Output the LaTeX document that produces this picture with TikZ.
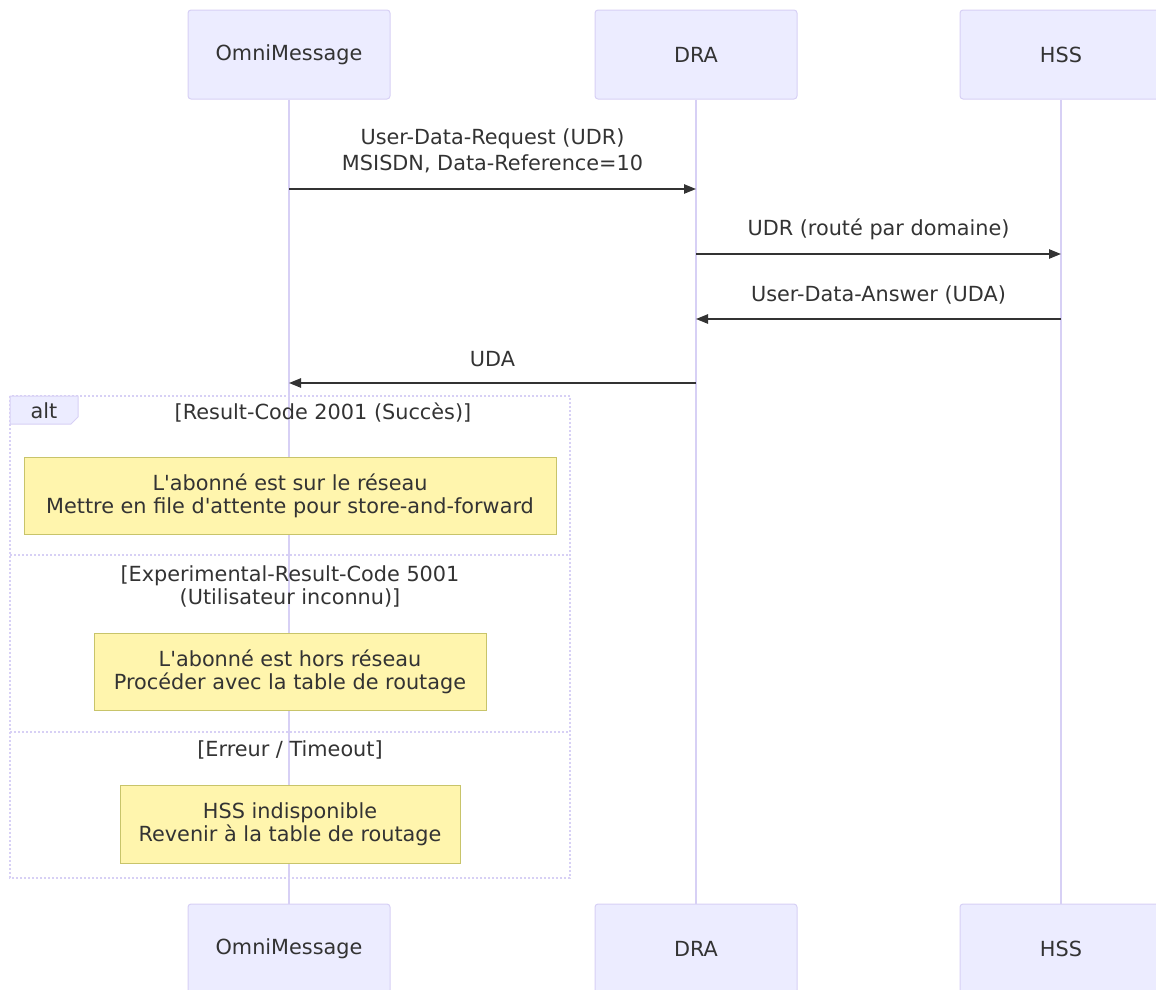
\documentclass[tikz,border=0pt]{standalone}
\usepackage{fontspec}
\newfontfamily\dejavu{DejaVu Sans}
\usetikzlibrary{positioning, arrows.meta}

\definecolor{actorfill}{HTML}{ECECFF}
\definecolor{actorline}{HTML}{D7D0F5}
\definecolor{notefill}{HTML}{FFF5AD}
\definecolor{noteline}{HTML}{C8C46A}
\definecolor{ink}{HTML}{333333}

\begin{document}
\begin{tikzpicture}[x=0.75pt, y=-0.75pt,
  font=\dejavu\fontsize{15.6}{17.25}\selectfont, text=ink,
  actor/.style={draw=actorline, fill=actorfill, rounded corners=2.25pt, minimum width=151.5pt, minimum height=66.75pt, line width=0.75pt},
  life/.style={draw=actorline, line width=1.1pt},
  msg/.style={draw=ink, line width=1.1pt, -{Triangle[length=9pt, width=7pt]}},
  note/.style={draw=noteline, fill=notefill, line width=0.75pt, align=center, inner sep=0pt, minimum height=58pt},
  frame/.style={draw=actorline, line width=1.1pt, dash pattern=on 1.5pt off 1.5pt}]
\useasboundingbox (0,0) rectangle (1156,989);

\node[actor](O0) at (289,54.5) {OmniMessage};
\node[actor](D0) at (696,54.5) {DRA};
\node[actor](H0) at (1061,54.5) {HSS};
\node[actor](O1) at (289,948.5) {OmniMessage};
\node[actor](D1) at (696,948.5) {DRA};
\node[actor](H1) at (1061,948.5) {HSS};

\path[life](O0)--(O1);
\path[life](D0)--(D1);
\path[life](H0)--(H1);

% messages
\node[align=center, font=\dejavu\fontsize{15.6}{19.5}\selectfont](m1) at (492.5,151) {User-Data-Request (UDR)\\MSISDN, Data-Reference=10};
\draw[msg](O0 |- 0,189)--(D0 |- 0,189);
\node(m2) at (878.5,229) {UDR (routé par domaine)};
\draw[msg](D0 |- 0,254)--(H0 |- 0,254);
\node(m3) at (878.5,295) {User-Data-Answer (UDA)};
\draw[msg](H0 |- 0,319)--(D0 |- 0,319);
\node(m4) at (492.5,359) {UDA};
\draw[msg](D0 |- 0,383)--(O0 |- 0,383);

% alt frame
\draw[frame](10,396) rectangle (570,878);
\draw[frame](10,555)--(570,555);
\draw[frame](10,732)--(570,732);
\filldraw[draw=actorline, fill=actorfill, line width=0.75pt](10,396)--(78,396)--(78,417)--(71,424)--(10,424)--cycle;
\node(alt) at (44,411) {alt};
\node(g1) at (323,413) {[Result-Code 2001 (Succès)]};
\node[align=center](g2) at (290,586) {[Experimental-Result-Code 5001\\(Utilisateur inconnu)]};
\node(g3) at (290,750) {[Erreur / Timeout]};

% notes
\node[note, minimum width=399pt](N1) at (290,496) {L'abonné est sur le réseau\\Mettre en file d'attente pour store-and-forward};
\node[note, minimum width=294pt](N2) at (290,672) {L'abonné est hors réseau\\Procéder avec la table de routage};
\node[note, minimum width=255pt](N3) at (290,824.5) {HSS indisponible\\Revenir à la table de routage};
\end{tikzpicture}
\end{document}
